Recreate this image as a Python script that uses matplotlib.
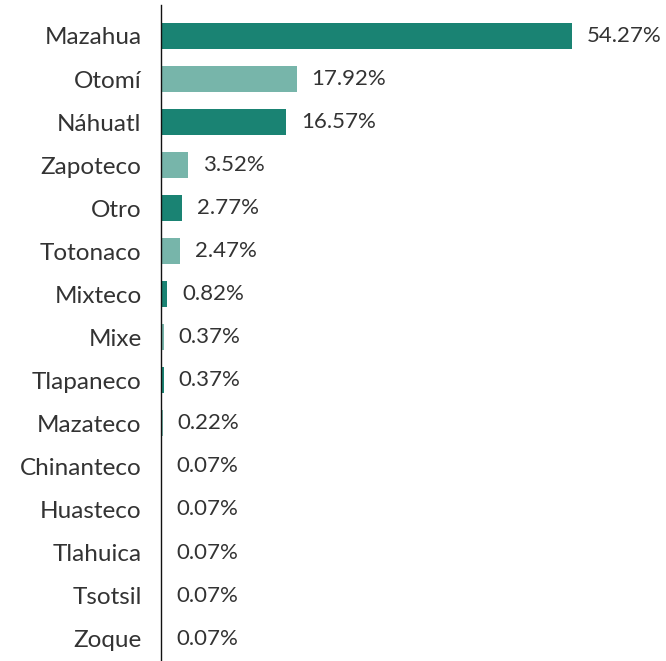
import matplotlib
matplotlib.use("Agg")
import matplotlib.pyplot as plt
from matplotlib import font_manager as fm

categories = ["Mazahua", "Otomí", "Náhuatl", "Zapoteco", "Otro", "Totonaco", "Mixteco",
              "Mixe", "Tlapaneco", "Mazateco", "Chinanteco", "Huasteco", "Tlahuica",
              "Tsotsil", "Zoque"]
values = [54.27, 17.92, 16.57, 3.52, 2.77, 2.47, 0.82, 0.37, 0.37, 0.22,
          0.07, 0.07, 0.07, 0.07, 0.07]
labels = ["54.27%", "17.92%", "16.57%", "3.52%", "2.77%", "2.47%", "0.82%", "0.37%",
          "0.37%", "0.22%", "0.07%", "0.07%", "0.07%", "0.07%", "0.07%"]

dark = "#1a8373"
light = "#77b5aa"
colors = [dark if i % 2 == 0 else light for i in range(len(values))]

names = {f.name for f in fm.fontManager.ttflist}
fam = "Lato" if "Lato" in names else "DejaVu Sans"
plt.rcParams['font.family'] = [fam, 'DejaVu Sans']

W, H = 666, 661
fig = plt.figure(figsize=(W/100, H/100), dpi=100)
ax = fig.add_axes([161/W, 0, (W-161)/W, (661-5)/H])

y = list(range(len(values)))
ax.barh(y, values, height=0.6, color=colors)
ax.set_ylim(14.52, -0.72)
ax.set_xlim(0, 66.7)

ax.set_yticks(y)
ax.set_yticklabels(categories, fontsize=17.5, color="#333333", fontweight="normal")
ax.tick_params(axis='y', length=0, pad=14)
ax.set_xticks([])
for s in ["top", "right", "bottom"]:
    ax.spines[s].set_visible(False)
ax.spines["left"].set_color("#111111")
ax.spines["left"].set_linewidth(1.0)

for yi, v, lab in zip(y, values, labels):
    ax.annotate(lab, (v, yi), xytext=(15, 0), textcoords="offset pixels",
                va="center", ha="left", fontsize=16, color="#333333",
                fontweight="normal", annotation_clip=False)

fig.savefig("out.png", dpi=100)
